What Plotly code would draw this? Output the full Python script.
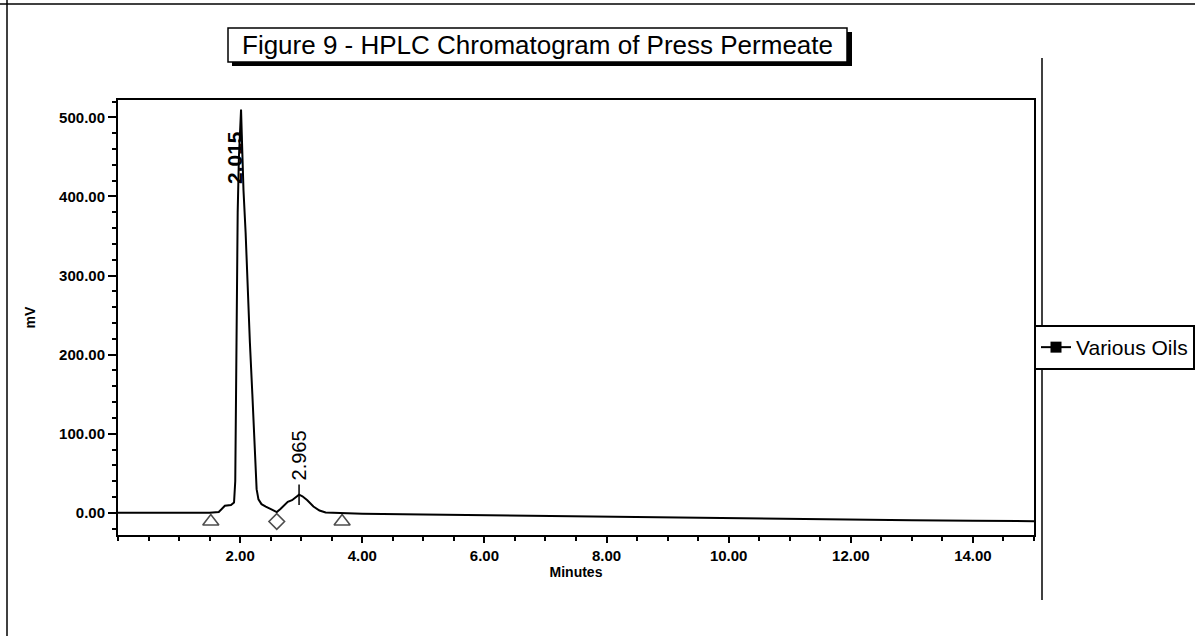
import plotly.graph_objects as go

# ---- data ----
time_min = [0.0, 0.5, 1.0, 1.5, 1.65, 1.70, 1.75, 1.85, 1.90, 1.92, 1.94, 1.96, 1.98,
            2.00, 2.015, 2.03, 2.055, 2.09, 2.13, 2.16, 2.20, 2.24, 2.27, 2.30, 2.35,
            2.42, 2.50, 2.60, 2.66, 2.72, 2.78, 2.85, 2.92, 2.965, 3.02, 3.10, 3.20,
            3.30, 3.40, 3.60, 4.0, 5.0, 6.0, 7.0, 8.0, 9.0, 10.0, 11.0, 12.0, 13.0,
            14.0, 15.0]
signal_mv = [0.0, 0.0, 0.0, 0.0, 1.0, 5.0, 9.0, 10.0, 13.0, 40.0, 250.0, 380.0, 450.0,
             495.0, 510.0, 470.0, 408.0, 354.0, 270.0, 215.0, 150.0, 70.0, 30.0, 17.0, 11.0,
             8.0, 5.0, 1.0, 5.0, 9.0, 14.0, 16.0, 20.0, 23.0, 21.0, 16.0, 8.0,
             3.0, 0.5, 0.0, -1.0, -2.0, -3.0, -4.0, -5.0, -6.0, -7.0, -8.0, -9.0, -9.5,
             -10.0, -10.5]

peak_times = [2.015, 2.965]
peak_labels = ["2.015", "2.965"]
peak_heights = [510.0, 23.0]

mark_times = [1.52, 2.60, 3.67]
mark_values = [-11.0, -11.0, -11.0]
mark_symbols = ["triangle-up-open", "diamond-open", "triangle-up-open"]
mark_sizes = [14, 12, 14]

x_tick_vals = [2, 4, 6, 8, 10, 12, 14]
y_tick_vals = [0, 100, 200, 300, 400, 500]

series_name = "Various Oils"
chart_title = "Figure 9 - HPLC Chromatogram of Press Permeate"

# ---- layout geometry (pixels) ----
W, H = 1195, 636
L, R, T, B = 118, 1034, 100, 535


def px_x(p):
    return (p - L) / (R - L)


def px_y(p):
    return (B - p) / (B - T)


fig = go.Figure()

fig.add_trace(go.Scatter(
    x=time_min, y=signal_mv, mode="lines",
    line=dict(color="black", width=2), showlegend=False, hoverinfo="x+y"))

fig.add_trace(go.Scatter(
    x=mark_times, y=mark_values, mode="markers",
    marker=dict(symbol=mark_symbols, size=mark_sizes, color="black",
                line=dict(width=1.6, color="black")),
    showlegend=False))

# legend entry
fig.add_trace(go.Scatter(
    x=[None], y=[None], mode="lines+markers", name=series_name,
    line=dict(color="black", width=2),
    marker=dict(symbol="square", size=11, color="black")))

# peak labels
for t, lab, h in zip(peak_times, peak_labels, peak_heights):
    if h > 100:
        fig.add_annotation(x=t, y=h, text=lab, textangle=-90, showarrow=False,
                           xanchor="center", yanchor="top", xshift=-6, yshift=-20,
                           font=dict(family="Arial, Liberation Sans", size=21, color="black",
                                     weight="bold"))
    else:
        fig.add_shape(type="line", x0=t, x1=t, y0=h - 13, y1=h + 13,
                      line=dict(color="black", width=1.5))
        fig.add_annotation(x=t, y=h + 13, text=lab, textangle=-90, showarrow=False,
                           xanchor="center", yanchor="bottom", yshift=2,
                           font=dict(family="Arial, Liberation Sans", size=20, color="black"))

# title box with shadow
fig.add_shape(type="rect", xref="paper", yref="paper",
              x0=px_x(232), x1=px_x(852), y0=px_y(66), y1=px_y(32),
              fillcolor="black", line=dict(width=0), layer="above")
fig.add_shape(type="rect", xref="paper", yref="paper",
              x0=px_x(228), x1=px_x(847), y0=px_y(62), y1=px_y(28),
              fillcolor="white", line=dict(color="black", width=1.5), layer="above")
fig.add_annotation(xref="paper", yref="paper", x=px_x(537.5), y=px_y(45),
                   text=chart_title, showarrow=False, xanchor="center", yanchor="middle",
                   font=dict(family="Arial, Liberation Sans", size=26, color="black"))

# scan frame lines
fig.add_shape(type="line", xref="paper", yref="paper",
              x0=px_x(0), x1=px_x(1195), y0=px_y(4), y1=px_y(4),
              line=dict(color="black", width=1.5))
fig.add_shape(type="line", xref="paper", yref="paper",
              x0=px_x(7), x1=px_x(7), y0=px_y(0), y1=px_y(636),
              line=dict(color="black", width=1.5))
fig.add_shape(type="line", xref="paper", yref="paper",
              x0=px_x(1042), x1=px_x(1042), y0=px_y(58), y1=px_y(600),
              line=dict(color="black", width=1.5))

tick_font = dict(family="Arial, Liberation Sans", size=15, color="black", weight="bold")

fig.update_xaxes(
    range=[0, 15], tickvals=x_tick_vals, tickformat=".2f",
    ticks="outside", ticklen=6, tickwidth=1.5, tickcolor="black",
    minor=dict(dtick=0.5, tick0=0, ticks="outside", ticklen=4, tickwidth=1.5, tickcolor="black"),
    showline=True, linecolor="black", linewidth=2, mirror=True,
    showgrid=False, zeroline=False,
    tickfont=tick_font,
    title=dict(text="<b>Minutes</b>", standoff=2,
               font=dict(family="Arial, Liberation Sans", size=14, color="black")))

fig.update_yaxes(
    range=[-28, 522], tickvals=y_tick_vals, tickformat=".2f",
    ticks="outside", ticklen=8, tickwidth=1.5, tickcolor="black",
    minor=dict(dtick=20, tick0=0, ticks="outside", ticklen=4, tickwidth=1.5, tickcolor="black"),
    showline=True, linecolor="black", linewidth=2, mirror=True,
    showgrid=False, zeroline=False,
    tickfont=tick_font,
    title=dict(text="<b>mV</b>", standoff=20,
               font=dict(family="Arial, Liberation Sans", size=14, color="black")))

fig.update_layout(
    width=W, height=H,
    margin=dict(l=L, r=W - R, t=T, b=H - B, autoexpand=False),
    paper_bgcolor="white", plot_bgcolor="white",
    font=dict(family="Arial, Liberation Sans", color="black"),
    legend=dict(x=1.0, y=px_y(347.5), xanchor="left", yanchor="middle",
                bordercolor="black", borderwidth=2, bgcolor="white",
                itemwidth=30, tracegroupgap=0,
                font=dict(family="Arial, Liberation Sans", size=21, color="black")),
)

fig.write_html("out.html", config={"displayModeBar": False},
               post_script="document.body.style.margin='0';document.body.style.overflow='hidden';")
